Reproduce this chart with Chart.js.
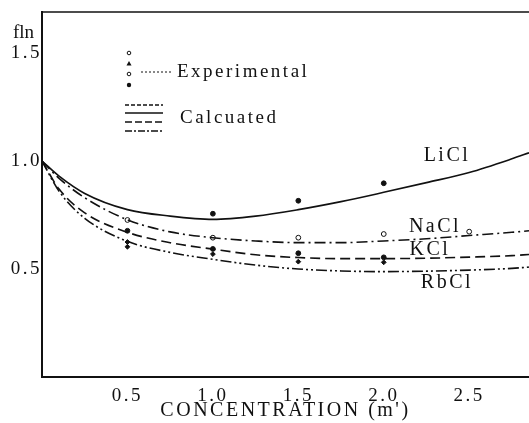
<!DOCTYPE html>
<html>
<head>
<meta charset="utf-8">
<script src="https://cdn.jsdelivr.net/npm/chart.js@4"></script>
<style>
  html, body { margin: 0; padding: 0; background: #fff; }
  #wrap { width: 529px; height: 423px; }
</style>
</head>
<body>
<div id="wrap"><canvas id="fln"></canvas></div>
<script>
// calculated curves
var curveX = [0, 0.1, 0.25, 0.5, 0.75, 1.0, 1.25, 1.5, 1.75, 2.0, 2.25, 2.5, 2.75, 2.85];
var licl = [1.0, 0.93, 0.85, 0.775, 0.745, 0.73, 0.745, 0.775, 0.812, 0.855, 0.9, 0.947, 1.01, 1.038];
var nacl = [1.0, 0.92, 0.83, 0.728, 0.672, 0.645, 0.63, 0.622, 0.622, 0.63, 0.64, 0.655, 0.67, 0.677];
var kcl  = [1.0, 0.87, 0.76, 0.67, 0.622, 0.592, 0.566, 0.553, 0.548, 0.548, 0.55, 0.555, 0.562, 0.567];
var rbcl = [1.0, 0.86, 0.735, 0.628, 0.577, 0.545, 0.518, 0.5, 0.491, 0.488, 0.49, 0.495, 0.503, 0.509];

// experimental points
var liclExpX = [1.0, 1.5, 2.0];
var liclExp  = [0.756, 0.816, 0.897];
var naclExpX = [0.5, 1.0, 1.5, 2.0, 2.5];
var naclExp  = [0.727, 0.645, 0.645, 0.662, 0.673];
var kclExpX  = [0.5, 1.0, 1.5, 2.0];
var kclExp   = [0.677, 0.593, 0.573, 0.554];
var rbclExpX = [0.5, 0.5, 1.0, 1.5, 2.0];
var rbclExp  = [0.625, 0.603, 0.569, 0.534, 0.531];

var xTicks = [0.5, 1.0, 1.5, 2.0, 2.5];
var yTicks = [0.5, 1.0, 1.5];

// where each salt name sits, in data units
var saltNames = ['LiCl', 'NaCl', 'KCl', 'RbCl'];
var nameX = [2.37, 2.30, 2.27, 2.37];
var nameY = [1.025, 0.695, 0.59, 0.435];

var serif = '"Liberation Serif", "DejaVu Serif", serif';

function pts(xs, ys) {
    var out = [];
    for (var i = 0; i < xs.length; i++) out.push({x: xs[i], y: ys[i]});
    return out;
}

function curve(label, ys, dash) {
    return {
        label: label,
        data: pts(curveX, ys),
        showLine: true,
        borderColor: '#111',
        borderWidth: 1.6,
        borderDash: dash,
        pointRadius: 0,
        pointHoverRadius: 0,
        cubicInterpolationMode: 'monotone',
        fill: false
    };
}

function points(label, xs, ys, style, filled) {
    return {
        label: label,
        data: pts(xs, ys),
        showLine: false,
        pointStyle: style,
        pointRadius: 2.4,
        pointHoverRadius: 2.4,
        borderWidth: 1,
        borderColor: '#111',
        backgroundColor: filled ? '#111' : '#fff'
    };
}

var decor = {
    id: 'decor',
    beforeLayout: function(chart) { chart.ctx.letterSpacing = '2.5px'; },
    beforeDraw: function(chart) { chart.ctx.letterSpacing = '2.5px'; },
    afterDraw: function(chart) {
        var ctx = chart.ctx;
        var a = chart.chartArea;
        var xs = chart.scales.x, ys = chart.scales.y;
        ctx.save();
        ctx.strokeStyle = '#111';
        ctx.fillStyle = '#111';
        // top frame line
        ctx.lineWidth = 1.5;
        ctx.beginPath();
        ctx.moveTo(a.left, a.top);
        ctx.lineTo(a.right, a.top);
        ctx.stroke();

        ctx.font = '19px ' + serif;
        ctx.textBaseline = 'middle';
        ctx.textAlign = 'left';
        ctx.letterSpacing = '0px';
        ctx.fillText('fln', 13, 33);
        ctx.letterSpacing = '2.5px';

        ctx.font = '20px ' + serif;
        ctx.textAlign = 'center';
        for (var i = 0; i < saltNames.length; i++) {
            ctx.fillText(saltNames[i], xs.getPixelForValue(nameX[i]), ys.getPixelForValue(nameY[i]));
        }

        // legend
        ctx.font = '19px ' + serif;
        ctx.textAlign = 'left';
        ctx.fillText('Experimental', 177, 72);
        ctx.fillText('Calcuated', 180, 118);
        ctx.lineWidth = 1;
        ctx.beginPath(); ctx.arc(129, 53, 1.8, 0, Math.PI * 2); ctx.stroke();
        ctx.beginPath(); ctx.moveTo(129, 61); ctx.lineTo(131.5, 65.5); ctx.lineTo(126.5, 65.5); ctx.closePath(); ctx.fill();
        ctx.beginPath(); ctx.arc(129, 74, 1.8, 0, Math.PI * 2); ctx.stroke();
        ctx.beginPath(); ctx.arc(129, 85, 2.2, 0, Math.PI * 2); ctx.fill();
        ctx.setLineDash([2, 2]);
        ctx.beginPath(); ctx.moveTo(141, 72); ctx.lineTo(173, 72); ctx.stroke();

        var rows = [[105, [4, 2]], [113, []], [122, [7, 3]], [131, [7, 2, 2, 2]]];
        ctx.lineWidth = 1.3;
        rows.forEach(function(r) {
            ctx.setLineDash(r[1]);
            ctx.beginPath(); ctx.moveTo(125, r[0]); ctx.lineTo(163, r[0]); ctx.stroke();
        });
        ctx.restore();
    }
};

var ctx = document.getElementById('fln').getContext('2d');
new Chart(ctx, {
    type: 'scatter',
    data: {
        datasets: [
            curve('LiCl', licl, []),
            curve('NaCl', nacl, [11, 4, 2, 4]),
            curve('KCl', kcl, [10, 5]),
            curve('RbCl', rbcl, [11, 3, 2, 3, 2, 3]),
            points('LiCl exp', liclExpX, liclExp, 'circle', true),
            points('NaCl exp', naclExpX, naclExp, 'circle', false),
            points('KCl exp', kclExpX, kclExp, 'circle', true),
            points('RbCl exp', rbclExpX, rbclExp, 'rectRot', true)
        ]
    },
    options: {
        responsive: true,
        maintainAspectRatio: false,
        animation: false,
        events: [],
        layout: { autoPadding: false, padding: { top: 12, right: 0, left: 0, bottom: 0 } },
        plugins: {
            legend: { display: false },
            tooltip: { enabled: false }
        },
        scales: {
            x: {
                type: 'linear',
                min: 0,
                max: 2.85,
                afterBuildTicks: function(s) { s.ticks = xTicks.map(function(v) { return {value: v}; }); },
                afterFit: function(s) { s.height = 46; },
                grid: { display: false, drawTicks: false },
                border: { display: true, color: '#111', width: 2 },
                ticks: {
                    color: '#111',
                    padding: 8,
                    maxRotation: 0,
                    font: { family: serif, size: 19 },
                    callback: function(v) { return v.toFixed(1); }
                },
                title: {
                    display: true,
                    text: "CONCENTRATION (m')",
                    color: '#111',
                    font: { family: serif, size: 20 },
                    padding: { top: -2, bottom: 0 }
                }
            },
            y: {
                min: 0,
                max: 1.69,
                afterBuildTicks: function(s) { s.ticks = yTicks.map(function(v) { return {value: v}; }); },
                afterFit: function(s) { s.width = 42; },
                grid: { display: false, drawTicks: false },
                border: { display: true, color: '#111', width: 2 },
                ticks: {
                    color: '#111',
                    padding: 0,
                    font: { family: serif, size: 19 },
                    callback: function(v) { return v.toFixed(1); }
                }
            }
        }
    },
    plugins: [decor]
});
</script>
</body>
</html>
